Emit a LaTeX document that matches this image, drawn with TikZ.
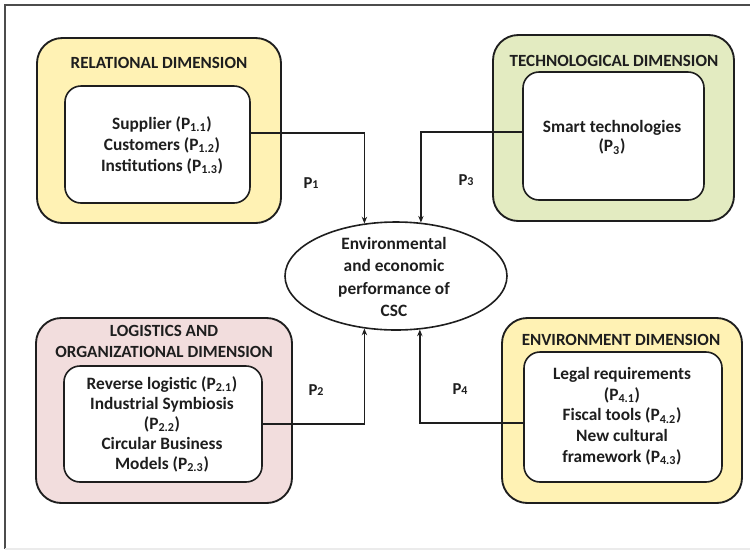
\documentclass[tikz,border=0pt]{standalone}
\usepackage{fontspec}
\setmainfont{Carlito}
\usepackage{tikz}
\usetikzlibrary{
  arrows.meta,      % Stealth 箭头
  positioning,      % 节点相对定位
  shapes.geometric  % 椭圆节点
}
\definecolor{relfill}{RGB}{255,242,180}
\definecolor{techfill}{RGB}{227,235,193}
\definecolor{logfill}{RGB}{242,221,221}
\definecolor{envfill}{RGB}{255,242,180}
\definecolor{inkgray}{RGB}{30,30,30}
\tikzset{
  dim box/.style={
    draw=inkgray,
    line width=1.4pt,
    rounded corners=19pt
  },
  item box/.style={
    draw=inkgray,
    fill=white,
    line width=1.2pt,
    rounded corners=12pt
  },
  dim title/.style={
    font=\bfseries\fontsize{12.8}{15.75}\selectfont,
    text=inkgray,
    align=center,
    inner sep=0pt
  },
  item text/.style={
    font=\bfseries\fontsize{13}{15.5}\selectfont,
    text=inkgray,
    align=center,
    inner sep=0pt
  },
  link/.style={
    -{Stealth[length=5pt,width=4pt]},
    line width=1pt,
    color=inkgray
  },
  link label/.style={
    font=\bfseries\fontsize{12.5}{14}\selectfont,
    text=inkgray
  }
}

\begin{document}
\begin{tikzpicture}[x=0.75pt, y=-0.75pt]
    \useasboundingbox (0,0) rectangle (750,551);
    % 外框
    \draw[line width=1.5pt, black!70] (5,549) -- (5,5) -- (751,5);
    \draw[line width=0.8pt, black!8] (5,549) -- (751,549);

    % --- 中心：椭圆 ---
    \node[ellipse, draw=inkgray, line width=1.2pt, minimum width=166.5pt, minimum height=81pt] (perf) at (396,276) {};
    \node[item text, font=\bfseries\fontsize{13}{16.7}\selectfont] (perftext) at (394,277)
      {Environmental\\and economic\\performance of\\CSC};

    % --- 左上：关系维度 ---
    \node[dim box, fill=relfill, minimum width=183pt, minimum height=138.75pt] (rel) at (159,130.5) {};
    \node[item box, minimum width=138.75pt, minimum height=87.75pt] (relin) at (157.5,144.5) {};
    \node[dim title] (reltitle) at (159,63) {RELATIONAL DIMENSION};
    \node[item text, font=\bfseries\fontsize{13}{15.75}\selectfont] (reltext) at (162,145)
      {Supplier (P\textsubscript{1.1})\\Customers (P\textsubscript{1.2})\\Institutions (P\textsubscript{1.3})};

    % --- 右上：技术维度 ---
    \node[dim box, fill=techfill, minimum width=180.75pt, minimum height=139.5pt] (tech) at (613.5,128) {};
    \node[item box, minimum width=135.75pt, minimum height=96pt] (techin) at (613.5,136) {};
    \node[dim title] (techtitle) at (614,61) {TECHNOLOGICAL DIMENSION};
    \node[item text, font=\bfseries\fontsize{13}{14.5}\selectfont] (techtext) at (612,137.5)
      {Smart technologies\\(P\textsubscript{3})};

    % --- 左下：物流与组织维度 ---
    \node[dim box, fill=logfill, minimum width=192pt, minimum height=138.75pt] (log) at (164,410.5) {};
    \node[item box, minimum width=148.5pt, minimum height=87pt] (login) at (163,424) {};
    \node[dim title] (logtitle) at (164,341.5) {LOGISTICS AND\\ORGANIZATIONAL DIMENSION};
    \node[item text, font=\bfseries\fontsize{13}{15}\selectfont] (logtext) at (162,424)
      {Reverse logistic (P\textsubscript{2.1})\\Industrial Symbiosis\\(P\textsubscript{2.2})\\Circular Business\\Models (P\textsubscript{2.3})};

    % --- 右下：环境维度 ---
    \node[dim box, fill=envfill, minimum width=180pt, minimum height=138.75pt] (env) at (622,410.5) {};
    \node[item box, minimum width=148.5pt, minimum height=97.5pt] (envin) at (623,417) {};
    \node[dim title] (envtitle) at (621,340) {ENVIRONMENT DIMENSION};
    \node[item text, font=\bfseries\fontsize{13}{15.5}\selectfont] (envtext) at (622,416)
      {Legal requirements\\(P\textsubscript{4.1})\\Fiscal tools (P\textsubscript{4.2})\\New cultural\\framework (P\textsubscript{4.3})};

    % 箭头：各维度 -> 椭圆
    \draw[link] ([yshift=8.6pt]relin.east) -| (perf.121);
    \draw[link] ([yshift=3pt]techin.west) -| (perf.65.5);
    \draw[link] (login.east) -| (perf.239);
    \draw[link] ([yshift=-4.5pt]envin.west) -| (perf.294.5);

    % 命题标签
    \node[link label] (p1) at (311,183) {P{\fontsize{9}{10}\selectfont 1}};
    \node[link label] (p2) at (316,390) {P{\fontsize{9}{10}\selectfont 2}};
    \node[link label] (p3) at (466,180) {P{\fontsize{9}{10}\selectfont 3}};
    \node[link label] (p4) at (460,389) {P{\fontsize{9}{10}\selectfont 4}};
\end{tikzpicture}
\end{document}
